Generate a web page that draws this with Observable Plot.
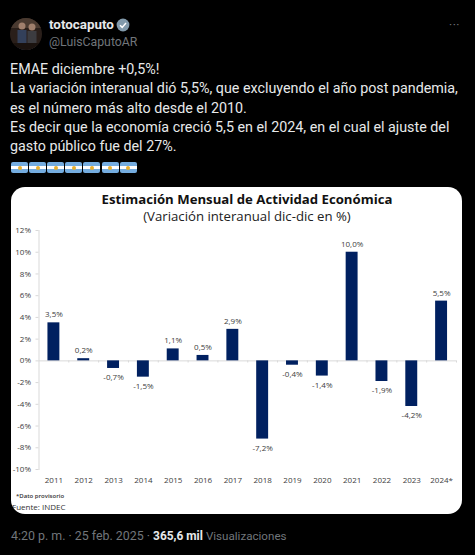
<!DOCTYPE html>
<html><head><meta charset="utf-8">
<script src="https://cdn.jsdelivr.net/npm/d3@7"></script>
<script src="https://cdn.jsdelivr.net/npm/@observablehq/plot@0.6"></script>
<style>
html,body{margin:0;padding:0;background:#000;width:475px;height:555px;overflow:hidden}
.a{position:absolute;white-space:nowrap}
body{font-family:Roboto,sans-serif;color:#e7e9ea}
#card{left:11px;top:187px;width:451px;height:327px;background:#fff;border-radius:14px;overflow:hidden}
#card svg{display:block;position:absolute;left:0;top:0}
.flag{position:absolute;top:162px;width:17px;height:11px;border-radius:2px;background:linear-gradient(#74acdf 0 33%,#fff 33% 67%,#74acdf 67%)}
.flag i{position:absolute;left:6.5px;top:3.5px;width:4px;height:4px;border-radius:50%;background:#e8b030}
.c{font-family:"Open Sans",sans-serif;color:#111;text-align:center;left:0;width:472px}
</style></head><body>
<svg class="a" style="left:10px;top:18px" width="32" height="32" viewBox="0 0 32 32"><defs><clipPath id="av"><circle cx="16" cy="16" r="16"/></clipPath></defs><g clip-path="url(#av)"><rect width="32" height="32" fill="#2a1f1a"/><rect y="0" width="32" height="10" fill="#4a3a30"/><circle cx="12" cy="8" r="3.5" fill="#a07f6c"/><circle cx="22" cy="9" r="3.5" fill="#a07f6c"/><rect x="7.500" y="12" width="9" height="20" fill="#33405a"/><rect x="17.500" y="13" width="9" height="19" fill="#3c3c40"/><rect x="0" y="25" width="32" height="7" fill="#1a120e"/></g></svg>
<div class="a" style="left:49px;top:17px;font-size:13.4px;font-weight:700">totocaputo</div>
<svg class="a" style="left:116px;top:18px" width="14" height="14" viewBox="0 0 14 14"><circle cx="7" cy="7" r="6.4" fill="#829aab"/><path d="M4 7.2l2.2 2.2L10 5" fill="none" stroke="#fff" stroke-width="1.5"/></svg>
<div class="a" style="left:49px;top:34.500px;font-size:12.3px;color:#71767b">@LuisCaputoAR</div>
<div class="a" style="left:449px;top:18px;font-size:12px;color:#71767b;letter-spacing:0.5px">···</div>
<div class="a" id="tweet" style="left:10px;top:60px;font-size:14.3px;line-height:19.3px"></div>
<div id="flags"></div>
<div class="a" id="card">
  <div class="a c" style="top:3px;font-size:13.2px;font-weight:700">Estimación Mensual de Actividad Económica</div>
  <div class="a c" style="top:19.500px;font-size:13.2px;color:#222">(Variación interanual dic-dic en %)</div>
  <div class="a" style="left:5px;top:305px;font-family:'Open Sans',sans-serif;font-size:6px;font-weight:600;color:#333">*Dato provisorio</div>
  <div class="a" style="left:1px;top:314px;font-family:'Open Sans',sans-serif;font-size:8px;color:#333">Fuente: INDEC</div>
</div>
<div class="a" style="left:11px;top:528px;font-size:12.4px;color:#71767b">4:20 p. m. · 25 feb. 2025 · <b style="color:#e7e9ea;font-size:11.9px">365,6 mil</b> <span style="font-size:11.6px">Visualizaciones</span></div>
<script>
const years = ["2011","2012","2013","2014","2015","2016","2017","2018","2019","2020","2021","2022","2023","2024*"];
const values = [3.5,0.2,-0.7,-1.5,1.1,0.5,2.9,-7.2,-0.4,-1.4,10.0,-1.9,-4.2,5.5];
const yTicks = [-10,-8,-6,-4,-2,0,2,4,6,8,10,12];
const tweetLines = ["EMAE diciembre +0,5%!","La variación interanual dió 5,5%, que excluyendo el año post pandemia,","es el número más alto desde el 2010.","Es decir que la economía creció 5,5 en el 2024, en el cual el ajuste del","gasto público fue del 27%."];
const rows = years.map((year,i)=>({year,value:values[i]}));
const comma = v => v.toFixed(1).replace(".",",")+"%";

document.getElementById("tweet").innerHTML = tweetLines.join("<br>");
document.getElementById("flags").innerHTML = d3.range(7).map(i=>`<div class="flag" style="left:${11+i*18.1}px"><i></i></div>`).join("");

const chart = Plot.plot({
  width:451,height:327,marginTop:43,marginBottom:45,marginLeft:27.5,marginRight:6,
  style:{background:"transparent",fontFamily:"'Open Sans',sans-serif",fontSize:"8px",color:"#404040"},
  x:{domain:years,paddingInner:0.6,paddingOuter:0.3,round:false,label:null},
  y:{domain:[-10,12],label:null},
  marks:[
    Plot.frame({anchor:"left",stroke:"#d9d9d9"}),
    Plot.ruleY([0],{stroke:"#d9d9d9"}),
    Plot.ruleX(years,{x:d=>d,y1:0,y2:-0.2,dx:14.9,stroke:"#d9d9d9"}),
    Plot.barY(rows,{x:"year",y:"value",fill:"#002060"}),
    Plot.text(rows.filter(d=>d.value>=0),{x:"year",y:"value",text:d=>comma(d.value),dy:-8,fill:"#404040"}),
    Plot.text(rows.filter(d=>d.value<0),{x:"year",y:"value",text:d=>comma(d.value),dy:9,fill:"#404040"}),
    Plot.axisY({ticks:yTicks,tickSize:3,tickPadding:5,tickFormat:d=>d+"%",stroke:"#d9d9d9",fill:"#404040",label:null}),
    Plot.axisX({anchor:"bottom",tickSize:0,tickPadding:8,fill:"#404040",label:null})
  ]
});
document.getElementById("card").appendChild(chart);
</script>
</body></html>
